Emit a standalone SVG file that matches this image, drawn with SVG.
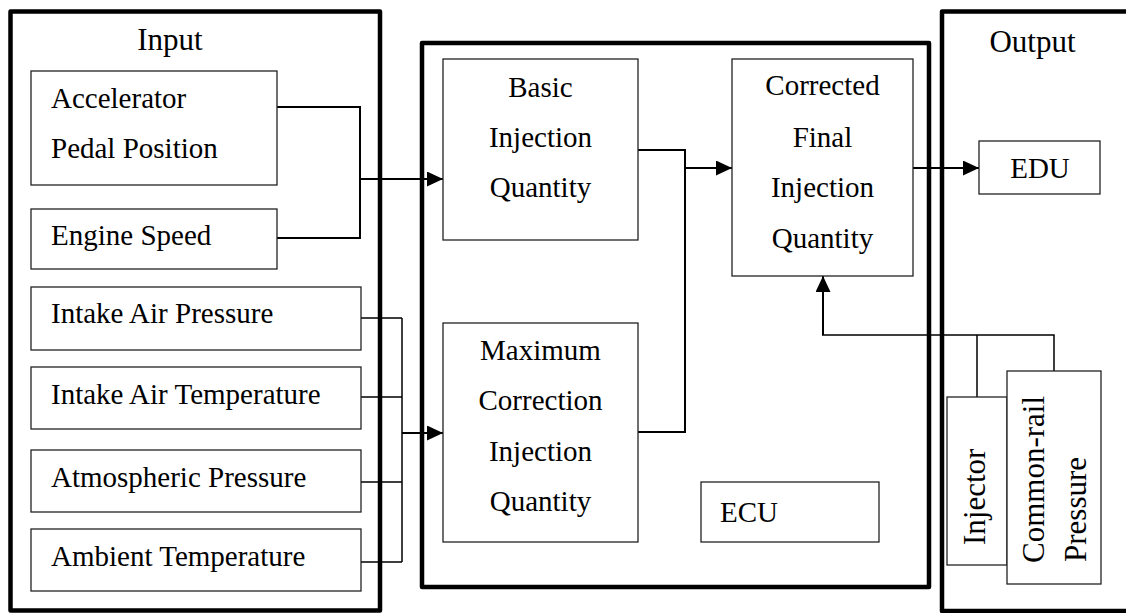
<svg xmlns="http://www.w3.org/2000/svg" width="1126" height="613" viewBox="0 0 1126 613" font-family="Liberation Serif, Times New Roman, serif">
<style>
  .outer { fill: none; stroke: #000; stroke-width: 4.5; stroke-linejoin: round; }
  .box { fill: #fff; stroke: #222; stroke-width: 1.3; }
  text { font-family: "Liberation Serif", "Times New Roman", serif; }
  .t { font-size: 29px; fill: #000; }
  .title { font-size: 31px; fill: #000; text-anchor: middle; }
  .c { text-anchor: middle; }
  .r { font-size: 31px; }
  .ln { fill: none; stroke: #000; stroke-width: 2; }
  .lt { fill: none; stroke: #000; stroke-width: 1.5; }
</style>
<defs>
  <marker id="arr" markerUnits="userSpaceOnUse" markerWidth="16" markerHeight="15" refX="16" refY="7.5" orient="auto">
    <path d="M0,0 L16,7.5 L0,15 z" fill="#000"/>
  </marker>
</defs>
<rect width="1126" height="613" fill="#fff"/>

<g id="input-panel">
  <rect class="outer" x="10.5" y="11.5" width="369.5" height="599"/>
  <text class="title" x="170" y="50" font-family="Liberation Serif, serif">Input</text>
</g>
<g id="ecu-panel">
  <rect class="outer" x="422" y="43" width="507" height="544"/>
</g>
<g id="output-panel">
  <rect class="outer" x="942" y="11.5" width="260" height="599.5"/>
  <text class="title" x="1032.5" y="52" font-family="Liberation Serif, serif">Output</text>
</g>

<g id="connectors">
  <path class="ln" d="M277,107 H360 V238 H277"/>
  <path class="ln" d="M360,179 H443" marker-end="url(#arr)"/>
  <path class="lt" d="M361,318 H402 M361,397 H402 M361,482 H402 M361,562 H402 M402,318 V562"/>
  <path class="ln" d="M402,433 H443" marker-end="url(#arr)"/>
  <path class="ln" d="M638,150 H685 V432 H638"/>
  <path class="ln" d="M685,168 H732" marker-end="url(#arr)"/>
  <path class="ln" d="M913,168 H979" marker-end="url(#arr)"/>
  <path class="lt" d="M977,397 V335 M1054,371 V335 H822"/>
  <path class="ln" d="M823,335 V276" marker-end="url(#arr)"/>
</g>

<g id="accelerator">
  <rect class="box" x="31" y="71" width="246" height="114"/>
  <text class="t" x="51" y="108">Accelerator</text>
  <text class="t" x="51" y="158">Pedal Position</text>
</g>
<g id="engine-speed">
  <rect class="box" x="31" y="209" width="246" height="60"/>
  <text class="t" x="51" y="245">Engine Speed</text>
</g>
<g id="intake-air-pressure">
  <rect class="box" x="31" y="287" width="330" height="63"/>
  <text class="t" x="51" y="323">Intake Air Pressure</text>
</g>
<g id="intake-air-temperature">
  <rect class="box" x="31" y="367" width="330" height="62"/>
  <text class="t" x="51" y="404">Intake Air Temperature</text>
</g>
<g id="atmospheric-pressure">
  <rect class="box" x="31" y="450" width="330" height="62"/>
  <text class="t" x="51" y="487">Atmospheric Pressure</text>
</g>
<g id="ambient-temperature">
  <rect class="box" x="31" y="529" width="330" height="62"/>
  <text class="t" x="51" y="566">Ambient Temperature</text>
</g>

<g id="basic-injection">
  <rect class="box" x="443" y="59" width="195" height="181"/>
  <text class="t c" x="540.5" y="97">Basic</text>
  <text class="t c" x="540.5" y="147">Injection</text>
  <text class="t c" x="540.5" y="197">Quantity</text>
</g>
<g id="maximum-correction">
  <rect class="box" x="443" y="323" width="195" height="219"/>
  <text class="t c" x="540.5" y="360">Maximum</text>
  <text class="t c" x="540.5" y="410">Correction</text>
  <text class="t c" x="540.5" y="461">Injection</text>
  <text class="t c" x="540.5" y="511">Quantity</text>
</g>
<g id="corrected-final">
  <rect class="box" x="732" y="59" width="181" height="217"/>
  <text class="t c" x="822.5" y="95">Corrected</text>
  <text class="t c" x="822.5" y="147">Final</text>
  <text class="t c" x="822.5" y="197">Injection</text>
  <text class="t c" x="822.5" y="248">Quantity</text>
</g>
<g id="ecu-label">
  <rect class="box" x="701" y="482" width="178" height="60"/>
  <text class="t" x="720" y="522">ECU</text>
</g>
<g id="edu">
  <rect class="box" x="979" y="141" width="121" height="53"/>
  <text class="t c" x="1040" y="178">EDU</text>
</g>
<g id="injector">
  <rect class="box" x="947" y="397" width="60" height="168"/>
  <text class="t r" transform="translate(985,545) rotate(-90)">Injector</text>
</g>
<g id="common-rail-pressure">
  <rect class="box" x="1007" y="371" width="94" height="213"/>
  <text class="t r" transform="translate(1044,563) rotate(-90)">Common-rail</text>
  <text class="t r" transform="translate(1086,562) rotate(-90)">Pressure</text>
</g>
</svg>
